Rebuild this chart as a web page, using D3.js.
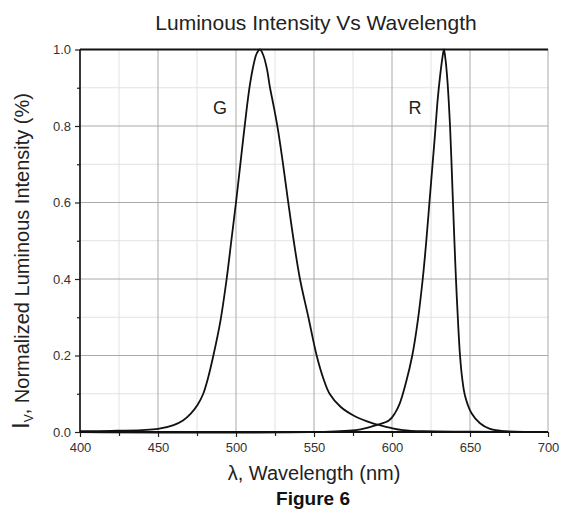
<!DOCTYPE html>
<html>
<head>
<meta charset="utf-8">
<script src="https://cdn.jsdelivr.net/npm/d3@7"></script>
<style>
  body { margin: 0; background: #fff; }
  svg { font-family: "Liberation Sans", Arial, sans-serif; }
</style>
</head>
<body>
<svg id="chart" width="570" height="515"></svg>
<script>
// green LED spectrum (wavelength nm, relative intensity)
var gWave = [400, 420, 440, 450, 460, 466, 471, 475.5, 479, 482, 485.5, 490, 494, 497, 500, 502.5, 505, 507, 509, 511, 513.3, 515.4, 517.5, 519.8, 521.8, 524, 526.7, 530, 533.5, 537, 541, 546.4, 551.7, 556, 560, 567, 575, 584, 592, 600, 607, 620, 650, 700];
var gVal  = [0.002, 0.003, 0.005, 0.008, 0.018, 0.03, 0.048, 0.072, 0.1, 0.14, 0.2, 0.29, 0.4, 0.5, 0.6, 0.69, 0.78, 0.85, 0.91, 0.955, 0.99, 1.0, 0.985, 0.95, 0.9, 0.855, 0.795, 0.705, 0.6, 0.5, 0.4, 0.3, 0.2, 0.14, 0.1, 0.066, 0.044, 0.028, 0.018, 0.01, 0.005, 0.002, 0.001, 0.0];
// red LED spectrum
var rWave = [400, 560, 580, 590, 598, 602, 605, 609, 613, 616.5, 619.7, 622, 624, 626, 627.6, 629.3, 630.8, 632.2, 633.3, 634.4, 635.5, 636.3, 637.2, 638, 638.9, 640, 641, 642.3, 643.6, 645, 646.8, 651, 656.4, 662.8, 670, 700];
var rVal  = [0.0, 0.001, 0.007, 0.018, 0.03, 0.05, 0.075, 0.13, 0.2, 0.29, 0.4, 0.5, 0.6, 0.7, 0.78, 0.87, 0.93, 0.975, 1.0, 0.97, 0.92, 0.87, 0.8, 0.72, 0.62, 0.5, 0.4, 0.29, 0.2, 0.14, 0.095, 0.049, 0.023, 0.008, 0.003, 0.0];

var xTicks = [400, 450, 500, 550, 600, 650, 700];
var xMinor = [425, 475, 525, 575, 625, 675];
var yTicks = [0, 0.2, 0.4, 0.6, 0.8, 1.0];
var yMinor = [0.1, 0.3, 0.5, 0.7, 0.9];

var svg = d3.select("#chart");
var L = 80, R = 548, T = 49.5, B = 432;

var x = d3.scaleLinear().domain([400, 700]).range([L, R]);
var y = d3.scaleLinear().domain([0, 1]).range([B, T]);

// grid
svg.append("g").selectAll("line").data(xMinor).enter().append("line")
  .attr("x1", d => x(d)).attr("x2", d => x(d)).attr("y1", T).attr("y2", B)
  .attr("stroke", "#e2e2e2").attr("stroke-width", 1);
svg.append("g").selectAll("line").data(yMinor).enter().append("line")
  .attr("y1", d => y(d)).attr("y2", d => y(d)).attr("x1", L).attr("x2", R)
  .attr("stroke", "#e2e2e2").attr("stroke-width", 1);
svg.append("g").selectAll("line").data(xTicks).enter().append("line")
  .attr("x1", d => x(d)).attr("x2", d => x(d)).attr("y1", T).attr("y2", B)
  .attr("stroke", "#aaa").attr("stroke-width", 1);
svg.append("g").selectAll("line").data(yTicks).enter().append("line")
  .attr("y1", d => y(d)).attr("y2", d => y(d)).attr("x1", L).attr("x2", R)
  .attr("stroke", "#aaa").attr("stroke-width", 1);

// axes
var xAxis = svg.append("g").attr("transform", "translate(0," + B + ")")
  .call(d3.axisBottom(x).tickValues(xTicks).tickSize(5).tickPadding(6).tickFormat(d3.format("d")));
var xAxisMinor = svg.append("g").attr("transform", "translate(0," + B + ")")
  .call(d3.axisBottom(x).tickValues(xMinor).tickSize(4).tickFormat(""));
var yAxis = svg.append("g").attr("transform", "translate(" + L + ",0)")
  .call(d3.axisLeft(y).tickValues(yTicks).tickSize(5).tickPadding(4).tickFormat(d3.format(".1f")));
var yAxisMinor = svg.append("g").attr("transform", "translate(" + L + ",0)")
  .call(d3.axisLeft(y).tickValues(yMinor).tickSize(3).tickFormat(""));

[xAxis, xAxisMinor, yAxis, yAxisMinor].forEach(function(a) {
  a.select(".domain").remove();
  a.selectAll("line").attr("stroke", "#222").attr("stroke-width", 1.2);
  a.selectAll("text").attr("fill", "#333").style("font-size", "13px");
});

// frame lines
svg.append("line").attr("x1", L).attr("x2", R).attr("y1", B).attr("y2", B)
  .attr("stroke", "#111").attr("stroke-width", 2);
svg.append("line").attr("x1", L).attr("x2", R).attr("y1", T).attr("y2", T)
  .attr("stroke", "#111").attr("stroke-width", 2);
svg.append("line").attr("x1", L).attr("x2", L).attr("y1", T).attr("y2", B)
  .attr("stroke", "#111").attr("stroke-width", 1.6);

// curves
var line = d3.line().x(d => x(d[0])).y(d => y(d[1])).curve(d3.curveCatmullRom.alpha(0.5));
svg.append("path").datum(d3.zip(gWave, gVal)).attr("d", line)
  .attr("fill", "none").attr("stroke", "#111").attr("stroke-width", 1.8);
svg.append("path").datum(d3.zip(rWave, rVal)).attr("d", line)
  .attr("fill", "none").attr("stroke", "#111").attr("stroke-width", 1.8);

// labels
svg.append("text").attr("x", 220).attr("y", 114).attr("text-anchor", "middle")
  .style("font-size", "18px").attr("fill", "#222").text("G");
svg.append("text").attr("x", 415).attr("y", 114).attr("text-anchor", "middle")
  .style("font-size", "18px").attr("fill", "#222").text("R");

svg.append("text").attr("x", 316).attr("y", 30).attr("text-anchor", "middle")
  .style("font-size", "21px").attr("fill", "#222").text("Luminous Intensity Vs Wavelength");

svg.append("text").attr("x", 314).attr("y", 480).attr("text-anchor", "middle")
  .style("font-size", "20px").attr("fill", "#222").text("λ, Wavelength (nm)");

svg.append("text").attr("x", 313).attr("y", 505).attr("text-anchor", "middle")
  .style("font-size", "19px").style("font-weight", "bold").attr("fill", "#111").text("Figure 6");

var yl = svg.append("text").attr("transform", "translate(29,261) rotate(-90)")
  .attr("text-anchor", "middle").style("font-size", "20px").attr("fill", "#222");
yl.append("tspan").style("font-size", "24px").text("I");
yl.append("tspan").attr("dy", 4).style("font-size", "12px").text("V");
yl.append("tspan").attr("dy", -4).text(", Normalized Luminous Intensity (%)");
</script>
</body>
</html>
